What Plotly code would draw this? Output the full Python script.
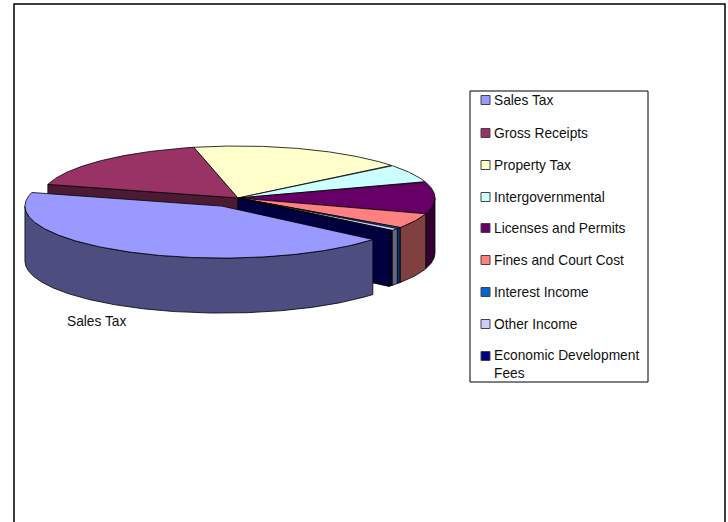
import numpy as np
import plotly.graph_objects as go

categories = ["Sales Tax", "Gross Receipts", "Property Tax", "Intergovernmental",
              "Licenses and Permits", "Fines and Court Cost", "Interest Income",
              "Other Income", "Economic Development Fees"]
legend_text = ["Sales Tax", "Gross Receipts", "Property Tax", "Intergovernmental",
               "Licenses and Permits", "Fines and Court Cost", "Interest Income",
               "Other Income", "Economic Development<br>Fees"]
values = [43.1, 17.2, 17.8, 5.7, 10.0, 4.7, 0.4, 0.7, 0.4]
top_colors = ["#9999ff", "#993366", "#ffffcc", "#ccffff", "#660066",
              "#ff8080", "#0066cc", "#ccccff", "#000080"]
side_colors = ["#4d4d80", "#4d1a33", "#808066", "#668080", "#330033",
               "#804040", "#003366", "#666680", "#000040"]

CX, CY, RX, RY, DEPTH = 238.0, 198.0, 197.0, 52.0, 55.0
START = -40.0  # Sales Tax begins here, slices run clockwise
EXPLODE = 0.176
FONT = dict(family="Liberation Sans, Arial, sans-serif", size=13.75, color="#111111")


def proj(t, ox=0.0, oy=0.0, drop=0.0):
    r = np.radians(t)
    return CX + ox + RX * np.cos(r), CY + oy + drop - RY * np.sin(r)


def arc(t0, t1, ox=0.0, oy=0.0, drop=0.0):
    n = max(2, int(abs(t1 - t0) * 2) + 2)
    ts = np.linspace(t0, t1, n)
    return proj(ts, ox, oy, drop)


def poly(fig, xs, ys, color, name):
    fig.add_trace(go.Scatter(x=list(xs), y=list(ys), mode="lines", fill="toself",
                             fillcolor=color, line=dict(color="black", width=0.8),
                             name=name, showlegend=False, hoverinfo="skip"))


def front_range(a, b):
    """Part of the clockwise angular span a>b that faces the viewer."""
    hits = []
    for k in (-720, -360, 0, 360):
        lo, hi = max(b, -180 + k), min(a, 0 + k)
        if hi > lo:
            hits.append((hi, lo))
    return hits


def wedge(fig, a, b, idx, ox=0.0, oy=0.0):
    xs, ys = arc(a, b, ox, oy)
    poly(fig, [CX + ox, *xs, CX + ox], [CY + oy, *ys, CY + oy], top_colors[idx], categories[idx])


def walls(fig, a, b, idx, ox=0.0, oy=0.0):
    for hi, lo in front_range(a, b):
        xt, yt = arc(hi, lo, ox, oy)
        xb, yb = arc(lo, hi, ox, oy, DEPTH)
        poly(fig, [*xt, *xb, xt[0]], [*yt, *yb, yt[0]], side_colors[idx], categories[idx])


def cut_wall(fig, t, idx):
    x, y = proj(t)
    poly(fig, [CX, x, x, CX, CX], [CY, y, y + DEPTH, CY + DEPTH, CY], side_colors[idx], categories[idx])


fig = go.Figure()

total = sum(values)
spans = [v / total * 360 for v in values]
edges = [START]
for s in spans:
    edges.append(edges[-1] - s)

# the unexploded part of the pie: cut faces, rim, then tops
cut_wall(fig, edges[1], 1)
cut_wall(fig, edges[-1], 8)
for i in range(1, len(values)):
    walls(fig, edges[i], edges[i + 1], i)
for i in range(1, len(values)):
    wedge(fig, edges[i], edges[i + 1], i)

# the exploded slice
mid = np.radians((edges[0] + edges[1]) / 2)
ox, oy = EXPLODE * RX * np.cos(mid), -EXPLODE * RY * np.sin(mid)
walls(fig, edges[0], edges[1], 0, ox, oy)
wedge(fig, edges[0], edges[1], 0, ox, oy)

# legend markers
legend_y = [100, 133, 165, 197, 228, 260, 292, 324, 356]
fig.add_trace(go.Scatter(
    x=[485.5] * len(categories), y=legend_y, mode="markers",
    marker=dict(symbol="square", size=9, color=top_colors, line=dict(color="#444444", width=1)),
    showlegend=False, hoverinfo="skip"))

ann = [dict(x=492, y=yy, text=t, xref="x", yref="y", xanchor="left", yanchor="top" if "<br>" in t else "middle",
            yshift=10.5 if "<br>" in t else 0, showarrow=False, align="left", font=FONT)
       for yy, t in zip(legend_y, legend_text)]
ann.append(dict(x=65, y=321, text=categories[0], xref="x", yref="y", xanchor="left", yanchor="middle",
                showarrow=False, font=FONT))

shapes = [
    dict(type="rect", x0=14, x1=725, y0=4, y1=560, xref="x", yref="y",
         line=dict(color="black", width=1.5), layer="below"),
    dict(type="rect", x0=470, x1=648, y0=91, y1=382, xref="x", yref="y",
         line=dict(color="black", width=1), fillcolor="white", layer="below"),
]

fig.update_layout(
    width=728, height=522, margin=dict(l=0, r=0, t=0, b=0, pad=0), autosize=False,
    paper_bgcolor="white", plot_bgcolor="white", showlegend=False,
    xaxis=dict(range=[0, 728], visible=False, fixedrange=True),
    yaxis=dict(range=[522, 0], visible=False, fixedrange=True),
    annotations=ann, shapes=shapes,
)
fig.write_html("out.html", config={"displayModeBar": False},
               post_script="document.body.style.margin='0';document.body.style.overflow='hidden';")
